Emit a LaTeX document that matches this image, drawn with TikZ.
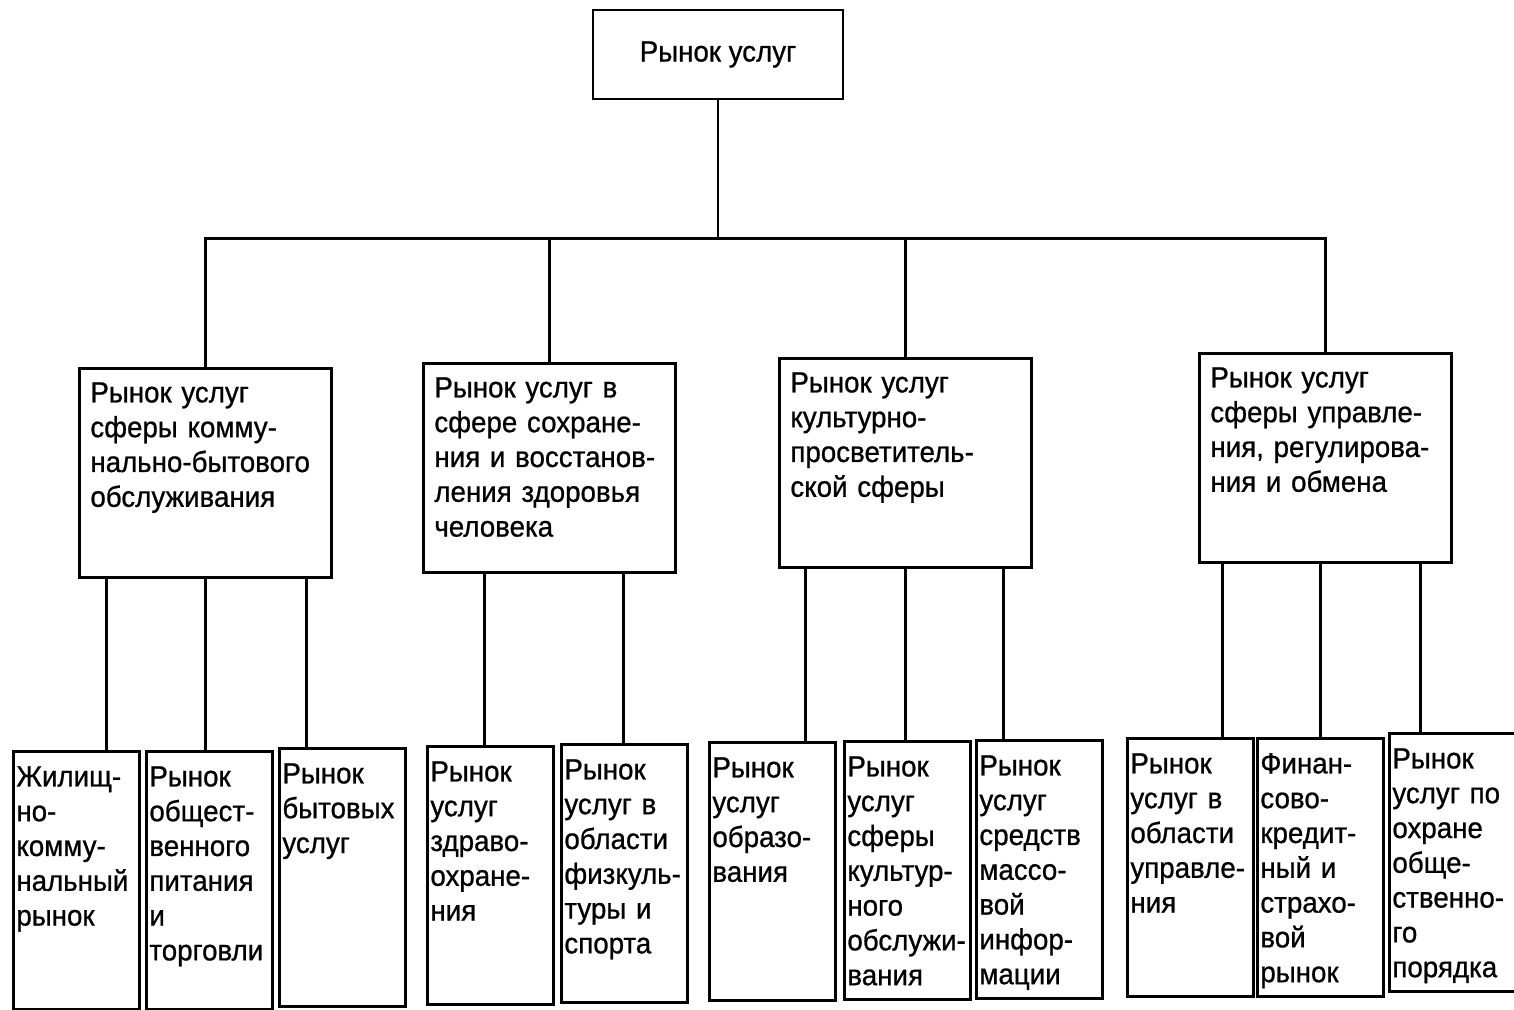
\documentclass[tikz,border=0pt]{standalone}
\usepackage{fontspec}
\setmainfont[FakeStretch=0.95, FakeBold=0.8]{Liberation Sans}
\usetikzlibrary{positioning}
\newcommand{\boxfont}{\fontsize{8.3}{9.9}\selectfont\hyphenpenalty 10000\exhyphenpenalty 10000\relax}

\begin{document}
\begin{tikzpicture}[thick,
    every node/.style={font=\boxfont},
    root/.style={draw, minimum width=2.5cm, minimum height=0.89cm},
    branch/.style={draw, anchor=north west, align=left, text width=2.3cm, inner xsep=0.11cm, inner ysep=0.08cm, text height=0.26cm, text depth=1.67cm},
    leaf/.style={draw, anchor=north west, align=left, text width=1.2cm, inner xsep=0.03cm, inner ysep=0.05cm, text height=0.3cm, text depth=2.18cm}]
    \useasboundingbox (0,0) rectangle (15.14,-10.10);

    \node[root] (rynok) at (7.18,-0.545) {Рынок услуг};

    \node[branch] (m1) at (0.78,-3.67) {Рынок услуг\\сферы комму-\\нально-бытового\\обслуживания};
    \node[branch] (m2) at (4.22,-3.62) {Рынок услуг в\\сфере сохране-\\ния и восстанов-\\ления здоровья\\человека};
    \node[branch] (m3) at (7.78,-3.57) {Рынок услуг\\культурно-\\просветитель-\\ской сферы};
    \node[branch] (m4) at (11.98,-3.52) {Рынок услуг\\сферы управле-\\ния, регулирова-\\ния и обмена};

    \node[leaf] (b1) at (0.12,-7.50) {Жилищ-\\но-\\комму-\\нальный\\рынок};
    \node[leaf] (b2) at (1.45,-7.50) {Рынок\\общест-\\венного\\питания\\и\\торговли};
    \node[leaf] (b3) at (2.78,-7.47) {Рынок\\бытовых\\услуг};
    \node[leaf] (b4) at (4.26,-7.45) {Рынок\\услуг\\здраво-\\охране-\\ния};
    \node[leaf] (b5) at (5.60,-7.43) {Рынок\\услуг в\\области\\физкуль-\\туры и\\спорта};
    \node[leaf] (b6) at (7.08,-7.41) {Рынок\\услуг\\образо-\\вания};
    \node[leaf] (b7) at (8.43,-7.40) {Рынок\\услуг\\сферы\\культур-\\ного\\обслужи-\\вания};
    \node[leaf] (b8) at (9.75,-7.39) {Рынок\\услуг\\средств\\массо-\\вой\\инфор-\\мации};
    \node[leaf] (b9) at (11.26,-7.37) {Рынок\\услуг в\\области\\управле-\\ния};
    \node[leaf] (b10) at (12.56,-7.37) {Финан-\\сово-\\кредит-\\ный и\\страхо-\\вой\\рынок};
    \node[leaf] (b11) at (13.88,-7.32) {Рынок\\услуг по\\охране\\обще-\\ственно-\\го\\порядка};

    \draw (rynok.south) -- ++(0,-1.38) coordinate (bus);
    \draw (m1.north) |- (bus) -| (m4.north);
    \draw (m2.north) -- (m2.north |- bus);
    \draw (m3.north) -- (m3.north |- bus);

    \foreach \m/\b/\dx in {m1/b1/-0.99, m1/b2/0, m1/b3/1.01, m2/b4/-0.65, m2/b5/0.74,
        m3/b6/-1, m3/b7/0, m3/b8/0.98, m4/b9/-1.03, m4/b10/-0.05, m4/b11/0.95}
        \draw ([xshift=\dx cm]\m.south) -- ([xshift=\dx cm]\m.south |- \b.north);
\end{tikzpicture}
\end{document}
